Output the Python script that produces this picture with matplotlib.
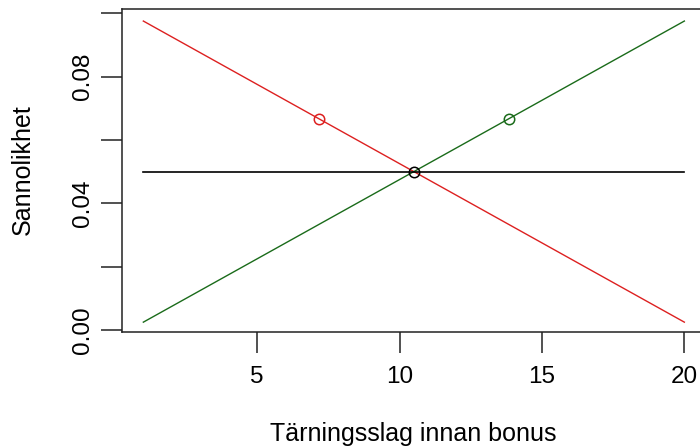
import matplotlib
matplotlib.use("Agg")
import matplotlib.pyplot as plt

plt.rcParams['font.family'] = ['Liberation Sans', 'DejaVu Sans']

# Data
slag = [1, 2, 3, 4, 5, 6, 7, 8, 9, 10, 11, 12, 13, 14, 15, 16, 17, 18, 19, 20]
p_fallande = [0.0975, 0.0925, 0.0875, 0.0825, 0.0775, 0.0725, 0.0675, 0.0625,
              0.0575, 0.0525, 0.0475, 0.0425, 0.0375, 0.0325, 0.0275, 0.0225,
              0.0175, 0.0125, 0.0075, 0.0025]
p_stigande = [0.0025, 0.0075, 0.0125, 0.0175, 0.0225, 0.0275, 0.0325, 0.0375,
              0.0425, 0.0475, 0.0525, 0.0575, 0.0625, 0.0675, 0.0725, 0.0775,
              0.0825, 0.0875, 0.0925, 0.0975]
p_likformig = [0.05] * 20

medel_x = [7.175, 10.5, 13.825]
medel_y = [0.0666, 0.05, 0.0666]
medel_farg = ['#dd2020', 'black', '#1a6b1a']

xticks = [5, 10, 15, 20]
yticks = [0.00, 0.02, 0.04, 0.06, 0.08, 0.10]
yticklabels = ['0.00', '', '0.04', '', '0.08', '']

fig = plt.figure(figsize=(7.0, 4.48), dpi=100)
ax = fig.add_axes([121.7 / 700, (448 - 332.3) / 448, (706 - 121.7) / 700, (332.3 - 9) / 448])

ax.plot(slag, p_fallande, color='#dd2020', lw=1.0)
ax.plot(slag, p_stigande, color='#1a6b1a', lw=1.0)
ax.plot(slag, p_likformig, color='black', lw=1.2)
for x, y, c in zip(medel_x, medel_y, medel_farg):
    ax.plot([x], [y], marker='o', markersize=7.5, markerfacecolor='none',
            markeredgecolor=c, markeredgewidth=1.1, linestyle='none')

ax.set_xlim(0.24, 20.76)
ax.set_ylim(-0.0007, 0.1013)

ax.set_xticks(xticks)
ax.set_xticklabels([str(t) for t in xticks])
ax.set_yticks(yticks)
ax.set_yticklabels(yticklabels, rotation=90, va='center')

for s in ax.spines.values():
    s.set_linewidth(1.1)
    s.set_color('#222222')

ax.tick_params(axis='both', direction='out', length=15, width=1.1, labelsize=17.5,
               colors='#222222', labelcolor='black')
ax.tick_params(axis='x', pad=9.5)
ax.tick_params(axis='y', pad=5)

fig.text(413 / 700, 1 - 434 / 448, 'Tärningsslag innan bonus', ha='center', va='center', fontsize=18)
fig.text(23 / 700, 1 - 170 / 448, 'Sannolikhet', ha='center', va='center', rotation=90, fontsize=18)

fig.savefig('out.png', dpi=100)
